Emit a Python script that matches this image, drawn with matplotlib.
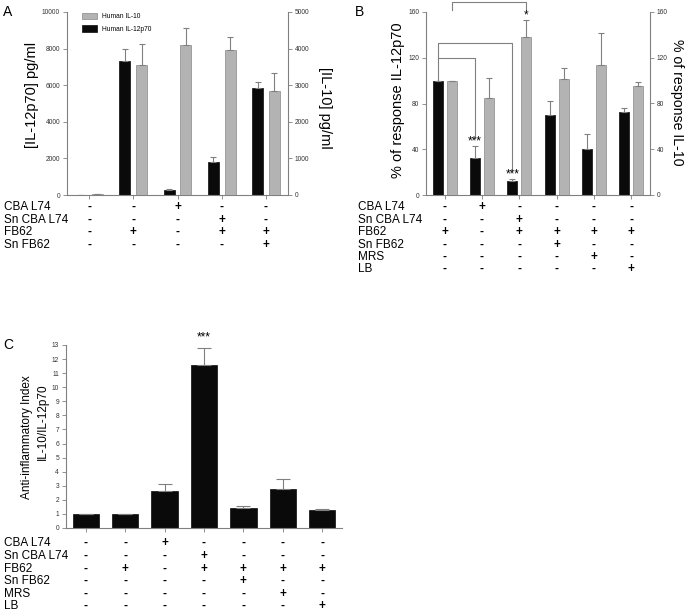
import matplotlib
matplotlib.use('Agg')
from matplotlib import pyplot as plt
import matplotlib.transforms as mtransforms
import numpy as np

plt.rcParams['font.family'] = ['Liberation Sans', 'DejaVu Sans']

# ---- data ----
# panel A
a_il12 = [20, 7300, 280, 1800, 5850]
a_il12_err = [0, 700, 70, 250, 350]
a_il10 = [15, 3550, 4100, 3950, 2850]
a_il10_err = [0, 575, 475, 375, 475]
a_rows = ['CBA L74', 'Sn CBA L74', 'FB62', 'Sn FB62']
a_signs = [['-', '-', '+', '-', '-'],
           ['-', '-', '-', '+', '-'],
           ['-', '+', '-', '+', '+'],
           ['-', '-', '-', '-', '+']]

# panel B
b_il12 = [100, 32, 12, 70, 40, 73]
b_il12_err = [0, 11, 2, 12, 13, 3]
b_il10 = [100, 85, 138, 101, 114, 95]
b_il10_err = [0, 17, 15, 10, 28, 4]
b_rows = ['CBA L74', 'Sn CBA L74', 'FB62', 'Sn FB62', 'MRS', 'LB']
b_signs = [['-', '+', '-', '-', '-', '-'],
           ['-', '-', '+', '-', '-', '-'],
           ['+', '-', '+', '+', '+', '+'],
           ['-', '-', '-', '+', '-', '-'],
           ['-', '-', '-', '-', '+', '-'],
           ['-', '-', '-', '-', '-', '+']]

# panel C
c_index = [1.0, 1.0, 2.6, 11.6, 1.4, 2.8, 1.3]
c_index_err = [0, 0, 0.55, 1.2, 0.15, 0.7, 0.03]
c_rows = ['CBA L74', 'Sn CBA L74', 'FB62', 'Sn FB62', 'MRS', 'LB']
c_signs = [['-', '-', '+', '-', '-', '-', '-'],
           ['-', '-', '-', '+', '-', '-', '-'],
           ['-', '+', '-', '+', '+', '+', '+'],
           ['-', '-', '-', '-', '+', '-', '-'],
           ['-', '-', '-', '-', '-', '+', '-'],
           ['-', '-', '-', '-', '-', '-', '+']]

BLACK = '#0a0a0a'
GREY = '#b3b3b3'
EDGE = '#888888'
AX = '#808080'
TICKFS = 4.8

W, H = 687, 613
fig = plt.figure(figsize=(W / 100, H / 100), dpi=100)


def px_ax(l, r, t, b):
    return fig.add_axes([l / W, 1 - b / H, (r - l) / W, (b - t) / H])


def ftext(x, y, s, **kw):
    # text placed in figure pixels (from top-left)
    return fig.text(x / W, 1 - y / H, s, **kw)


def style(ax):
    for s in ['top', 'right']:
        ax.spines[s].set_visible(False)
    for s in ['left', 'bottom']:
        ax.spines[s].set_color(AX)
        ax.spines[s].set_linewidth(0.8)
    ax.tick_params(colors=AX, labelcolor='#333333', labelsize=TICKFS, length=3, width=0.6, pad=2)
    ax.set_xticklabels([])


def style_right(ax2):
    for s in ['top', 'left', 'bottom']:
        ax2.spines[s].set_visible(False)
    ax2.spines['right'].set_color(AX)
    ax2.spines['right'].set_linewidth(0.8)
    ax2.tick_params(colors=AX, labelcolor='#333333', labelsize=TICKFS, length=3, width=0.6, pad=2)


def table(ax, rows, signs, ys, xlab=4):
    tr = mtransforms.blended_transform_factory(ax.transData, fig.transFigure)
    for r, (name, row) in enumerate(zip(rows, signs)):
        y = 1 - ys[r] / H
        fig.text(xlab / W, y, name, fontsize=8.5, ha='left', va='center')
        for i, s in enumerate(row):
            ax.text(i, y, s, transform=tr, ha='center', va='center', fontsize=8.5,
                    fontweight='bold')


err_kw = dict(ecolor=AX, elinewidth=0.8, capsize=2.5, capthick=0.8)

# ---- panel A ----
axA = px_ax(67, 288, 12, 195)
xa = np.arange(len(a_il12))
axA2 = axA.twinx()
axA.bar(xa - 0.19, a_il12, 0.25, color=BLACK, edgecolor=BLACK, lw=0.5,
        yerr=[np.zeros(5), a_il12_err], error_kw=err_kw, label='Human IL-12p70')
axA2.bar(xa + 0.19, a_il10, 0.25, color=GREY, edgecolor=EDGE, lw=0.5,
         yerr=[np.zeros(5), a_il10_err], error_kw=err_kw, label='Human IL-10')
axA.set_xlim(-0.5, 4.5)
axA.set_ylim(0, 10000)
axA2.set_ylim(0, 5000)
axA.set_yticks(np.arange(0, 10001, 2000))
axA2.set_yticks(np.arange(0, 5001, 1000))
axA.set_xticks(xa)
style(axA)
style_right(axA2)
ftext(32, 95, '[IL-12p70] pg/ml', fontsize=10.5, rotation=90, ha='center', va='center')
ftext(325, 108, '[IL-10] pg/ml', fontsize=10.5, rotation=270, ha='center', va='center')
h1, l1 = axA2.get_legend_handles_labels()
h2, l2 = axA.get_legend_handles_labels()
axA2.legend(h1 + h2, l1 + l2, loc='upper left', bbox_to_anchor=(0.04, 1.03), frameon=False,
            fontsize=4.8, handlelength=2.2, handleheight=1.1, labelspacing=0.8)
table(axA, a_rows, a_signs, [207, 220, 232, 245])
ftext(3, 12, 'A', fontsize=10, ha='left', va='center')

# ---- panel B ----
axB = px_ax(426, 650, 12, 195)
xb = np.arange(len(b_il12))
axB2 = axB.twinx()
axB.bar(xb - 0.19, b_il12, 0.27, color=BLACK, edgecolor=BLACK, lw=0.5,
        yerr=[np.zeros(6), b_il12_err], error_kw=err_kw)
axB2.bar(xb + 0.19, b_il10, 0.27, color=GREY, edgecolor=EDGE, lw=0.5,
         yerr=[np.zeros(6), b_il10_err], error_kw=err_kw)
for a in (axB, axB2):
    a.set_ylim(0, 160)
    a.set_yticks(np.arange(0, 161, 40))
axB.set_xlim(-0.5, 5.5)
axB.set_xticks(xb)
style(axB)
style_right(axB2)
ftext(398, 100, '% of response IL-12p70', fontsize=10.5, rotation=90, ha='center', va='center')
ftext(677, 102, '% of response IL-10', fontsize=10.2, rotation=270, ha='center', va='center')

# significance brackets
bk = dict(color=AX, lw=0.8, clip_on=False)
axB.plot([-0.19, -0.19, 0.81, 0.81], [100, 120, 120, 50], **bk)
axB.plot([-0.19, -0.19, 1.81, 1.81], [120, 133, 133, 22], **bk)
axB.plot([0.19, 0.19, 2.19, 2.19], [162, 169, 169, 162], **bk)
axB.text(0.81, 47, '***', ha='center', va='center', fontsize=8.5)
axB.text(1.81, 18, '***', ha='center', va='center', fontsize=8.5)
axB.text(2.19, 157, '*', ha='center', va='center', fontsize=8.5)
table(axB, b_rows, b_signs, [207, 220, 232, 245, 257, 269], xlab=358)
ftext(355, 12, 'B', fontsize=10, ha='left', va='center')

# ---- panel C ----
axC = px_ax(66, 342, 345, 528)
xc = np.arange(len(c_index))
axC.bar(xc, c_index, 0.67, color=BLACK, edgecolor=BLACK, lw=0.5,
        yerr=[np.zeros(7), c_index_err], error_kw=dict(ecolor=AX, elinewidth=0.8,
                                                        capsize=5, capthick=0.8))
axC.set_xlim(-0.5, 6.5)
axC.set_ylim(0, 13)
axC.set_yticks(np.arange(0, 14, 1))
axC.set_xticks(xc)
style(axC)
ftext(27, 437, 'Anti-inflammatory Index', fontsize=8.5, rotation=90, ha='center', va='center')
ftext(43, 422, 'IL-10/IL-12p70', fontsize=8.5, rotation=90, ha='center', va='center')
axC.text(3, 13.55, '***', ha='center', va='center', fontsize=8.5)
table(axC, c_rows, c_signs, [543, 556, 569, 581, 594, 606])
ftext(3, 345, 'C', fontsize=10, ha='left', va='center')

plt.savefig('out.png', dpi=100)
